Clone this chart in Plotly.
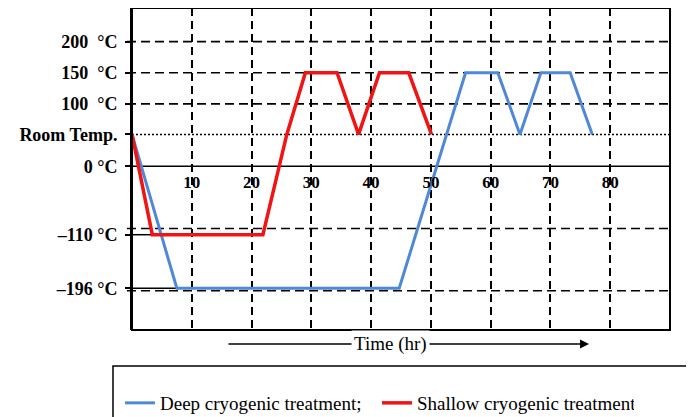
import plotly.graph_objects as go

# ---- data ----
time_deep = [0, 7.5, 44.7, 55.8, 61.2, 64.9, 68.4, 73.3, 77.0]
temp_deep = [51, -196, -196, 150, 150, 51, 150, 150, 51]

time_shallow = [0, 3.4, 21.9, 25.9, 29.0, 34.3, 37.9, 41.4, 46.3, 50.1]
temp_shallow = [51, -110, -110, 51, 150, 150, 51, 150, 150, 51]

room_temp = 51
y_tick_vals = [200, 150, 100, room_temp, 0, -110, -196]
y_tick_text = ["200\u00a0 °C", "150\u00a0 °C", "100\u00a0 °C", "Room Temp.", "0 °C", "\u2013110 °C", "\u2013196 °C"]
x_tick_vals = [10, 20, 30, 40, 50, 60, 70, 80]
x_tick_text = [str(v) for v in x_tick_vals]
dashed_levels = [200, 150, 100, -100, -200]

X_RANGE = [0, 90]
Y_RANGE = [-263, 254]

# The page body has an 8px margin: work in screen pixels and shift.
OFF = 8
W, H = 694, 417
PLOT_L, PLOT_R, PLOT_T, PLOT_B = 132, 670, 8, 330   # screen pixels
ML = PLOT_L - OFF
MT = max(PLOT_T - OFF, 0)
MR = W - (PLOT_R - OFF)
MB = H - (PLOT_B - OFF)
PW, PH = PLOT_R - PLOT_L, PLOT_B - PLOT_T

def px(xs):
    return (xs - PLOT_L) / PW

def py(ys):
    return (PLOT_B - ys) / PH

BLUE = "#4f88d6"
RED = "#f01414"
FONT = "Liberation Serif"

fig = go.Figure()

shapes = []
for lv in dashed_levels:
    shapes.append(dict(type="line", xref="paper", yref="y", x0=px(127), x1=1, y0=lv, y1=lv,
                       line=dict(color="black", width=1.6, dash="9px,5px"), layer="below"))
shapes.append(dict(type="line", xref="paper", yref="y", x0=0, x1=1, y0=room_temp, y1=room_temp,
                   line=dict(color="black", width=1.5, dash="2px,2px"), layer="below"))
shapes.append(dict(type="line", xref="x", yref="y", x0=X_RANGE[0] - 0.75, x1=time_shallow[1],
                   y0=temp_shallow[1], y1=temp_shallow[1], line=dict(color="black", width=1.5), layer="below"))
shapes.append(dict(type="line", xref="x", yref="y", x0=X_RANGE[0] - 0.75, x1=time_deep[1],
                   y0=temp_deep[1], y1=temp_deep[1], line=dict(color="black", width=1.5), layer="below"))
shapes.append(dict(type="line", xref="paper", yref="y", x0=px(127), x1=1, y0=0, y1=0,
                   line=dict(color="black", width=1.6), layer="below"))
shapes.append(dict(type="rect", xref="paper", yref="paper", x0=0, x1=1, y0=0, y1=1,
                   line=dict(color="black", width=2)))
shapes.append(dict(type="rect", xref="paper", yref="paper", x0=px(113), x1=px(687), y0=py(366), y1=py(440),
                   line=dict(color="black", width=1.5)))

fig.add_trace(go.Scatter(x=time_deep, y=temp_deep, mode="lines", name="Deep cryogenic treatment;",
                         line=dict(color=BLUE, width=3)))
fig.add_trace(go.Scatter(x=time_shallow, y=temp_shallow, mode="lines", name="Shallow cryogenic treatment",
                         line=dict(color=RED, width=3.5)))

annotations = [
    dict(xref="paper", yref="paper", x=px(589), y=py(344), ax=-(589 - 227), ay=0, text="",
         showarrow=True, arrowhead=2, arrowsize=1.2, arrowwidth=1.5, arrowcolor="black"),
    dict(xref="paper", yref="paper", x=px(390), y=py(344), xanchor="center", yanchor="middle",
         text="Time (hr)", showarrow=False,
         bgcolor="white", font=dict(family=FONT, size=19, color="black"), borderpad=2),
]

fig.update_layout(
    width=W, height=H,
    margin=dict(l=ML, r=MR, t=MT, b=MB, autoexpand=False),
    paper_bgcolor="white", plot_bgcolor="white",
    shapes=shapes, annotations=annotations,
    showlegend=True,
    legend=dict(orientation="h", x=px(120), xanchor="left", y=py(403), yanchor="middle",
                font=dict(family=FONT, size=19, color="black"), bgcolor="rgba(0,0,0,0)",
                entrywidth=212, entrywidthmode="pixels"),
    xaxis=dict(range=X_RANGE, anchor="free", position=(0 - Y_RANGE[0]) / (Y_RANGE[1] - Y_RANGE[0]),
               tickvals=x_tick_vals, ticktext=x_tick_text, ticks="", showline=False,
               showgrid=True, griddash="8px,5px", gridcolor="black", gridwidth=1.6,
               zeroline=False, ticklabelstandoff=4,
               tickfont=dict(family=FONT, size=17, color="black", weight="bold")),
    yaxis=dict(range=Y_RANGE, tickvals=y_tick_vals, ticktext=y_tick_text, ticks="outside", ticklen=5,
               tickcolor="black", tickwidth=1.5, showgrid=False, zeroline=False, showline=True,
               linecolor="black", linewidth=2, ticklabelstandoff=4,
               tickfont=dict(family=FONT, size=18, color="black", weight="bold")),
)

fig.write_html("out.html")
